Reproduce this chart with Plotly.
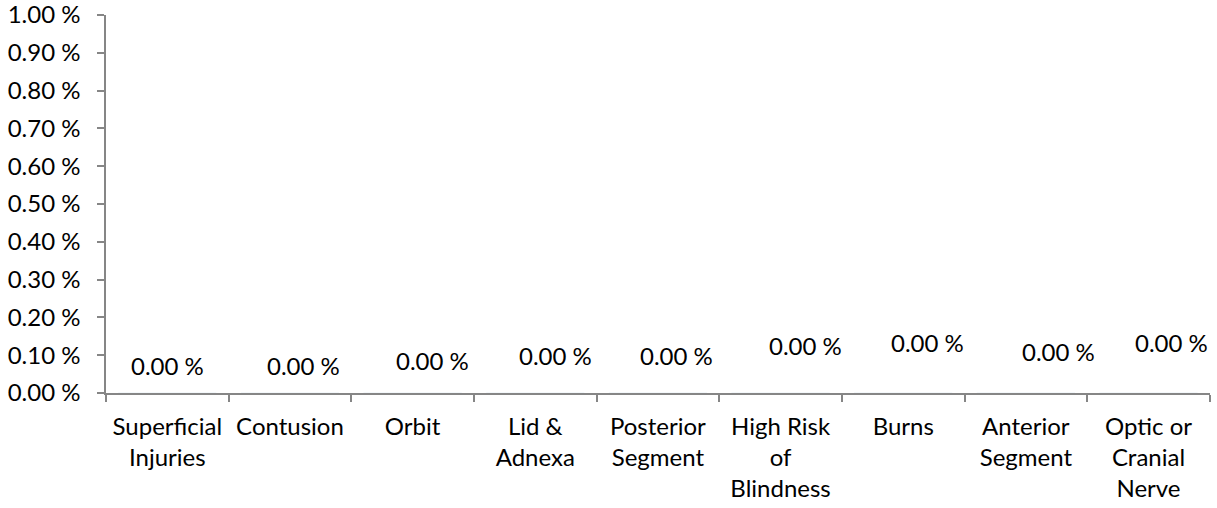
import plotly.graph_objects as go

categories = ["Superficial<br>Injuries", "Contusion", "Orbit", "Lid &<br>Adnexa",
              "Posterior<br>Segment", "High Risk<br>of<br>Blindness", "Burns",
              "Anterior<br>Segment", "Optic or<br>Cranial<br>Nerve"]
values = [0.0, 0.0, 0.0, 0.0, 0.0, 0.0, 0.0, 0.0, 0.0]  # percent
y_ticks = [0.0, 0.1, 0.2, 0.3, 0.4, 0.5, 0.6, 0.7, 0.8, 0.9, 1.0]
y_tick_labels = [f"{v:.2f} %" for v in y_ticks]

# label placement offsets (pixels) – style, not data
label_dx = [0, 14, 20, 20, 19, 25, 24, 33, 23]
label_dy = [28, 28, 33, 38, 38, 48, 51, 42, 51]

FONT = "Lato"
FS = 24
AXIS = "#868686"

fig = go.Figure()
fig.add_trace(go.Bar(x=categories, y=values, marker_color="rgba(0,0,0,0)",
                     hoverinfo="skip", showlegend=False))

for c, v, dx, dy in zip(categories, values, label_dx, label_dy):
    fig.add_annotation(x=c, y=v, text=f"{v:.2f} %", showarrow=False,
                       xshift=dx, yshift=dy, font=dict(family=FONT, size=FS, color="#000"))

fig.update_layout(
    width=1217, height=508,
    margin=dict(l=106, r=7, t=15, b=115, autoexpand=False),
    paper_bgcolor="white", plot_bgcolor="white",
    font=dict(family=FONT, size=FS, color="#000"),
    showlegend=False,
)
fig.update_xaxes(
    type="category", showline=True, linecolor=AXIS, linewidth=1.5,
    ticks="outside", tickson="boundaries", ticklen=7, tickcolor=AXIS, tickwidth=1.5,
    showgrid=False, zeroline=False, tickfont=dict(family=FONT, size=FS, color="#000"),
    tickangle=0, automargin=False, ticklabelstandoff=11,
)
fig.update_yaxes(
    range=[0, 1.0], tickvals=y_ticks, ticktext=y_tick_labels,
    showline=True, linecolor=AXIS, linewidth=1.5,
    ticks="outside", ticklen=7, tickcolor=AXIS, tickwidth=1.5,
    showgrid=False, zeroline=False, ticklabelstandoff=12, automargin=False,
    ticklabeloverflow="allow",
    tickfont=dict(family=FONT, size=FS, color="#000"),
)

fig.write_html("out.html", config={"displayModeBar": False},
               post_script="document.body.style.margin='0';")
